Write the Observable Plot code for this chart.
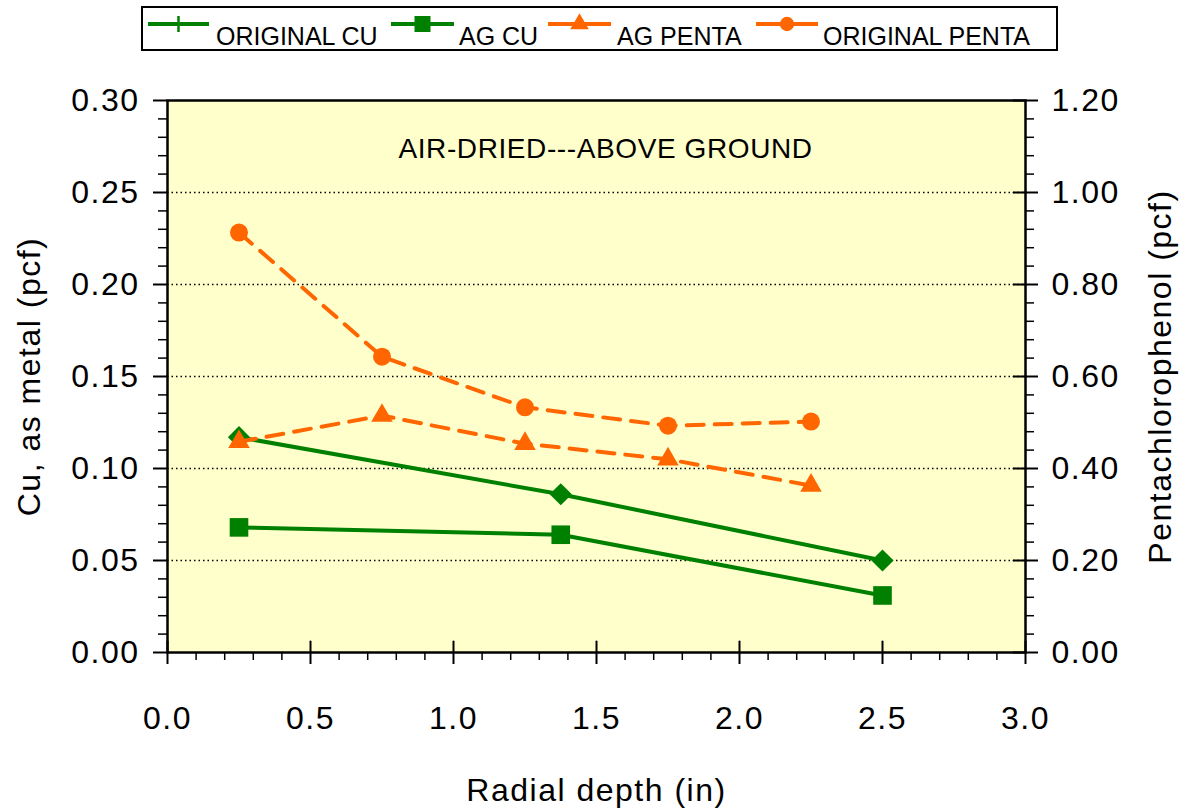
<!DOCTYPE html>
<html><head><meta charset="utf-8">
<script src="https://cdn.jsdelivr.net/npm/d3@7"></script>
<script src="https://cdn.jsdelivr.net/npm/@observablehq/plot@0.6"></script>
<style>
body{margin:0;background:#fff;font-family:"Liberation Sans",Arial,sans-serif;}
#legend{display:block;}
#chart svg{display:block;}
#chart svg text{letter-spacing:1.5px;}
#chart svg g.annot text{letter-spacing:0.6px;}
</style></head><body>
<svg id="legend" width="1189" height="55"></svg>
<div id="chart"></div>
<script>
// ---- data ----
const seriesNames = ["ORIGINAL CU", "AG CU", "AG PENTA", "ORIGINAL PENTA"];
const depthCu = [0.25, 1.375, 2.5];
const originalCu = [0.117, 0.086, 0.050];
const agCu = [0.068, 0.064, 0.031];
const depthPenta = [0.25, 0.75, 1.25, 1.75, 2.25];
const agPenta = [0.458, 0.515, 0.454, 0.420, 0.363];
const originalPenta = [0.913, 0.643, 0.533, 0.493, 0.502];
const xMajor = [0.0, 0.5, 1.0, 1.5, 2.0, 2.5, 3.0];
const xLabels = ["0.0", "0.5", "1.0", "1.5", "2.0", "2.5", "3.0"];
const yMajor = [0.00, 0.05, 0.10, 0.15, 0.20, 0.25, 0.30];
const yLabels = ["0.00", "0.05", "0.10", "0.15", "0.20", "0.25", "0.30"];
const rightLabels = ["0.00", "0.20", "0.40", "0.60", "0.80", "1.00", "1.20"];
const yGrid = [0.05, 0.10, 0.15, 0.20, 0.25];
const annotation = "AIR-DRIED---ABOVE GROUND";
const xTitle = "Radial depth (in)";
const yTitle = "Cu, as metal (pcf)";
const y2Title = "Pentachlorophenol (pcf)";

const GREEN = "#008000", ORANGE = "#FF6600";
const cuMax = 0.3, pentaMax = 1.2;
const k = cuMax / pentaMax;
const FS = 32;

const xMinor = d3.range(0, 31).map(i => i / 10).filter(v => Math.abs(v * 2 - Math.round(v * 2)) > 1e-6);
const yMinor = d3.range(0, 31).map(i => i / 100).filter(v => Math.abs(v * 20 - Math.round(v * 20)) > 1e-6);

const rowsCu = (vals) => depthCu.map((d, i) => ({x: d, y: vals[i]}));
const rowsP = (vals) => depthPenta.map((d, i) => ({x: d, y: vals[i] * k}));
const origCuRows = rowsCu(originalCu), agCuRows = rowsCu(agCu);
const agPRows = rowsP(agPenta), origPRows = rowsP(originalPenta);

const lineShape = {draw(ctx, l) { ctx.moveTo(0, 0); ctx.lineTo(0, -l); }};
const fmtIdx = (arr) => d => { const i = yMajor.findIndex(v => Math.abs(v - d) < 1e-9); return i >= 0 ? arr[i] : ""; };

const chart = Plot.plot({
  width: 1189, height: 754,
  marginTop: 45, marginBottom: 157, marginLeft: 167, marginRight: 164,
  style: {fontFamily: "Liberation Sans, Arial, sans-serif", fontSize: FS + "px", background: "transparent", color: "black", overflow: "visible"},
  x: {domain: [0, 3]},
  y: {domain: [0, 0.3]},
  marks: [
    Plot.frame({fill: "#FFFFCC", stroke: "none"}),
    Plot.ruleY(yGrid, {stroke: "black", strokeWidth: 1.5, strokeDasharray: "1.5,3"}),
    Plot.vector(xMajor, {x: d => d, y: 0, length: 11, rotate: 0, anchor: "start", shape: lineShape, stroke: "black", strokeWidth: 2}),
    Plot.vector(yMajor, {x: 3, y: d => d, length: 12, rotate: -90, anchor: "start", shape: lineShape, stroke: "black", strokeWidth: 2}),
    Plot.line(origCuRows, {x: "x", y: "y", stroke: GREEN, strokeWidth: 4}),
    Plot.line(agCuRows, {x: "x", y: "y", stroke: GREEN, strokeWidth: 4}),
    Plot.dot(origCuRows, {x: "x", y: "y", symbol: "diamond2", r: 10, fill: GREEN, stroke: "none"}),
    Plot.dot(agCuRows, {x: "x", y: "y", symbol: "square", r: 10.5, fill: GREEN, stroke: "none"}),
    Plot.line(agPRows, {x: "x", y: "y", stroke: ORANGE, strokeWidth: 4, strokeDasharray: "17,11"}),
    Plot.dot(agPRows, {x: "x", y: "y", symbol: "triangle", r: 8, fill: ORANGE, stroke: "none"}),
    Plot.line(origPRows, {x: "x", y: "y", stroke: ORANGE, strokeWidth: 4, strokeDasharray: "17,11"}),
    Plot.dot(origPRows, {x: "x", y: "y", symbol: "circle", r: 9, fill: ORANGE, stroke: "none"}),
    Plot.frame({stroke: "black", strokeWidth: 2.5}),
    Plot.axisX(xMajor, {tickSize: 12, tickPadding: 42, fontSize: FS, tickFormat: d => xLabels[xMajor.indexOf(d)], label: null, stroke: "black", strokeWidth: 2}),
    Plot.axisX(xMinor, {tickSize: 8, tickFormat: () => "", label: null, stroke: "black", strokeWidth: 1.5}),
    Plot.axisY(yMajor, {anchor: "left", tickSize: 14, tickPadding: 14, fontSize: FS, tickFormat: fmtIdx(yLabels), label: null, stroke: "black", strokeWidth: 2}),
    Plot.axisY(yMinor, {anchor: "left", tickSize: 9, tickFormat: () => "", label: null, stroke: "black", strokeWidth: 1.5}),
    Plot.axisY(yMajor, {anchor: "right", tickSize: 12, tickPadding: 14, fontSize: FS, tickFormat: fmtIdx(rightLabels), label: null, stroke: "black", strokeWidth: 2}),
    Plot.axisY(yMinor, {anchor: "right", tickSize: 8, tickFormat: () => "", label: null, stroke: "black", strokeWidth: 1.5}),
    Plot.text([annotation], {frameAnchor: "top", text: d => d, lineAnchor: "top", dy: 38, dx: 9, fontSize: 28, fill: "black", className: "annot"}),
    Plot.text([xTitle], {frameAnchor: "bottom", text: d => d, textAnchor: "middle", lineAnchor: "middle", dy: 138, fontSize: FS, fill: "black"}),
    Plot.text([yTitle], {frameAnchor: "left", text: d => d, rotate: -90, textAnchor: "middle", lineAnchor: "middle", dx: -138, fontSize: FS, fill: "black"}),
    Plot.text([y2Title], {frameAnchor: "right", text: d => d, rotate: -90, textAnchor: "middle", lineAnchor: "middle", dx: 135, fontSize: FS, fill: "black"})
  ]
});
document.getElementById("chart").append(chart);

// ---- legend ----
const lg = d3.select("#legend");
lg.append("rect").attr("x", 142).attr("y", 7).attr("width", 915).attr("height", 43)
  .attr("fill", "white").attr("stroke", "black").attr("stroke-width", 2);
const legendItems = [
  {name: seriesNames[0], color: GREEN, x0: 148, x1: 209, tx: 216, marker: "plus"},
  {name: seriesNames[1], color: GREEN, x0: 391, x1: 454, tx: 459, marker: "square"},
  {name: seriesNames[2], color: ORANGE, x0: 548, x1: 611, tx: 617, marker: "triangle"},
  {name: seriesNames[3], color: ORANGE, x0: 756, x1: 818, tx: 823, marker: "circle"}
];
const ly = 24;
legendItems.forEach(it => {
  lg.append("line").attr("x1", it.x0).attr("x2", it.x1).attr("y1", ly).attr("y2", ly)
    .attr("stroke", it.color).attr("stroke-width", 4);
  const cx = (it.x0 + it.x1) / 2;
  if (it.marker === "plus") {
    lg.append("line").attr("x1", cx).attr("x2", cx).attr("y1", ly - 8).attr("y2", ly + 8)
      .attr("stroke", it.color).attr("stroke-width", 2.5);
  } else {
    const sym = it.marker === "square" ? d3.symbolSquare : it.marker === "triangle" ? d3.symbolTriangle : d3.symbolCircle;
    const size = it.marker === "square" ? 256 : it.marker === "triangle" ? 150 : 160;
    lg.append("path").attr("d", d3.symbol(sym, size)()).attr("transform", `translate(${cx},${ly})`)
      .attr("fill", it.color);
  }
  lg.append("text").attr("x", it.tx).attr("y", 45).attr("font-size", 25)
    .attr("font-family", "Liberation Sans, Arial, sans-serif").attr("fill", "black").text(it.name);
});
</script></body></html>
